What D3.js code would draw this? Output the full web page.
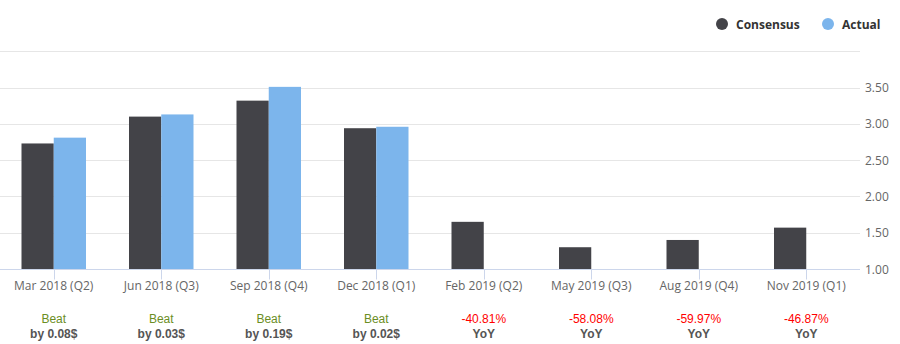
<!DOCTYPE html>
<html>
<head>
<meta charset="utf-8">
<script src="https://cdn.jsdelivr.net/npm/d3@7"></script>
<style>
  html, body { margin: 0; padding: 0; background: #fff; }
  svg { display: block; font-family: "Open Sans", "DejaVu Sans", sans-serif; }
  .note { font-family: "Liberation Sans", Arial, sans-serif; }
</style>
</head>
<body>
<svg id="chart" width="900" height="344"></svg>
<script>
// Quarterly EPS: consensus estimate vs reported actual
const categories = ["Mar 2018 (Q2)", "Jun 2018 (Q3)", "Sep 2018 (Q4)", "Dec 2018 (Q1)",
                    "Feb 2019 (Q2)", "May 2019 (Q3)", "Aug 2019 (Q4)", "Nov 2019 (Q1)"];
const consensus = [2.73, 3.10, 3.32, 2.94, 1.65, 1.30, 1.40, 1.57];
const actual    = [2.81, 3.13, 3.51, 2.96, null, null, null, null];
const yoyChange = [null, null, null, null, "-40.81%", "-58.08%", "-59.97%", "-46.87%"];
const yTicks    = [1.00, 1.50, 2.00, 2.50, 3.00, 3.50, 4.00];
const seriesNames = ["Consensus", "Actual"];
const seriesColors = ["#434348", "#7cb5ec"];

const svg = d3.select("#chart");
const plot = { left: 0, right: 860, top: 51.3, bottom: 269 };

const x0 = d3.scaleBand().domain(categories).range([plot.left, plot.right]);
const groupPad = 0.2;
const x1 = d3.scaleBand().domain(seriesNames)
  .range([0, x0.bandwidth() * (1 - 2 * groupPad)]);
const y = d3.scaleLinear().domain([1, 4]).range([plot.bottom, plot.top]);

// horizontal grid
svg.append("g").selectAll("line").data(yTicks).join("line")
  .attr("x1", plot.left).attr("x2", plot.right)
  .attr("y1", d => Math.round(y(d)) + 0.5).attr("y2", d => Math.round(y(d)) + 0.5)
  .attr("stroke", "#e6e6e6").attr("stroke-width", 1);

// right-hand value labels (top line left unlabeled)
svg.append("g").selectAll("text").data(yTicks.slice(0, -1)).join("text")
  .attr("x", 865).attr("y", d => y(d) + 4.5)
  .attr("fill", "#666").attr("font-size", 12)
  .text(d => d3.format(".2f")(d));

// bars
const rows = categories.map((c, i) => ({ cat: c, vals: [consensus[i], actual[i]] }));
const groups = svg.append("g").selectAll("g").data(rows).join("g")
  .attr("transform", d => `translate(${x0(d.cat) + x0.bandwidth() * groupPad},0)`);
groups.selectAll("rect")
  .data(d => d.vals.map((v, k) => ({ name: seriesNames[k], v, k })).filter(e => e.v != null))
  .join("rect")
  .attr("x", e => x1(e.name))
  .attr("width", x1.bandwidth())
  .attr("y", e => y(e.v))
  .attr("height", e => y(1) - y(e.v))
  .attr("fill", e => seriesColors[e.k]);

// category axis
const axisY = Math.round(plot.bottom) + 0.5;
svg.append("line").attr("x1", plot.left).attr("x2", plot.right)
  .attr("y1", axisY).attr("y2", axisY).attr("stroke", "#ccd6eb");
const center = c => x0(c) + x0.bandwidth() / 2;
svg.append("g").selectAll("line").data(categories).join("line")
  .attr("x1", d => Math.round(center(d)) + 0.5).attr("x2", d => Math.round(center(d)) + 0.5)
  .attr("y1", axisY).attr("y2", axisY + 10).attr("stroke", "#ccd6eb");
svg.append("g").selectAll("text").data(categories).join("text")
  .attr("x", center).attr("y", 290).attr("text-anchor", "middle")
  .attr("fill", "#666").attr("font-size", 12)
  .text(d => d);

// surprise / year-over-year notes under each quarter
const notes = svg.append("g").attr("class", "note").selectAll("g").data(categories).join("g")
  .attr("transform", d => `translate(${center(d)},0)`);
notes.each(function (c, i) {
  const g = d3.select(this);
  if (actual[i] != null) {
    const diff = actual[i] - consensus[i];
    g.append("text").attr("y", 323).attr("text-anchor", "middle")
      .attr("font-size", 12).attr("fill", diff >= 0 ? "#6b8e23" : "#ff0000")
      .text(diff >= 0 ? "Beat" : "Miss");
    g.append("text").attr("y", 338).attr("text-anchor", "middle")
      .attr("font-size", 12).attr("font-weight", "bold").attr("fill", "#555")
      .text("by " + Math.abs(diff).toFixed(2) + "$");
  } else {
    g.append("text").attr("y", 323).attr("text-anchor", "middle")
      .attr("font-size", 12).attr("fill", "#ff0000")
      .text(yoyChange[i]);
    g.append("text").attr("y", 338).attr("text-anchor", "middle")
      .attr("font-size", 12).attr("font-weight", "bold").attr("fill", "#555")
      .text("YoY");
  }
});

// legend
const legendPos = [722, 828];
const legend = svg.append("g").selectAll("g").data(seriesNames).join("g")
  .attr("transform", (d, i) => `translate(${legendPos[i]},24)`);
legend.append("circle").attr("r", 6).attr("fill", (d, i) => seriesColors[i]);
legend.append("text").attr("x", 14).attr("y", 4.5)
  .attr("font-size", 12).attr("font-weight", "bold").attr("fill", "#333")
  .text(d => d);
</script>
</body>
</html>
